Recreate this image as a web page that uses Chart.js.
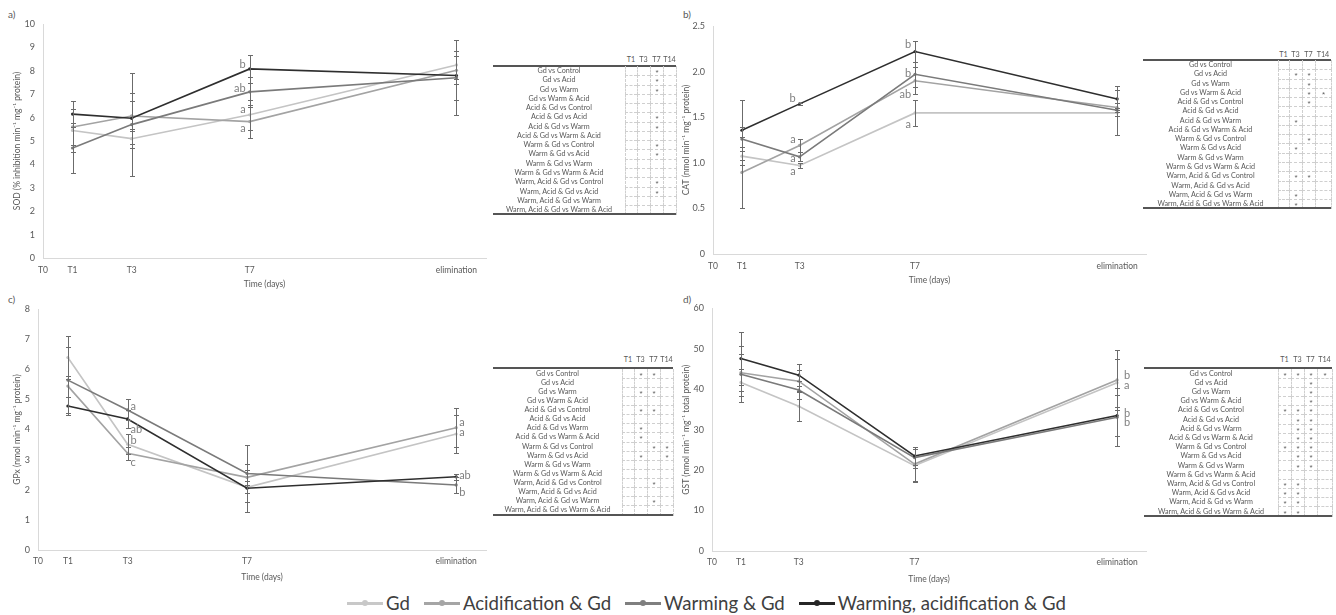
<!DOCTYPE html>
<html>
<head>
<meta charset="utf-8">
<script src="https://cdn.jsdelivr.net/npm/chart.js@4.4.0/dist/chart.umd.min.js"></script>
<style>
  body { margin: 0; background: #fff; width: 1336px; height: 615px; position: relative; overflow: hidden;
         font-family: Lato, 'Liberation Sans', sans-serif; color: #595959; }
  .box { position: absolute; }
  .plabel { position: absolute; font-size: 10px; color: #595959; }
  .tbl { position: absolute; font-size: 7.2px; color: #595959; }
  .tbl div { position: absolute; box-sizing: border-box; white-space: nowrap; }
  .lab { text-align: center; }
  .cell { border-left: 1px dashed #cfcfcf; border-bottom: 1px dashed #cfcfcf; text-align: center;
          font-family: 'Liberation Sans', sans-serif; font-size: 8px; color: #606060; }
  .cell.last { border-right: 1px dashed #cfcfcf; }
  .hd { text-align: center; }
  .rule { background: #555; height: 2px; }
  #legend { position: absolute; left: 347px; top: 591px; display: flex; align-items: center;
            font-size: 18.6px; line-height: 24px; color: #404040; }
  .item { display: flex; align-items: center; margin-right: 14px; }
  .swatch { position: relative; width: 36px; height: 3px; margin-right: 3px; }
  .swatch i { position: absolute; left: 15px; top: -1.5px; width: 6px; height: 6px; border-radius: 3px; }
</style>
</head>
<body>
<div class="plabel" style="left:8px;top:8px">a)</div>
<div class="plabel" style="left:683px;top:8px">b)</div>
<div class="plabel" style="left:8px;top:293px">c)</div>
<div class="plabel" style="left:683px;top:293px">d)</div>

<div class="box" style="left:0;top:0"><canvas id="chartA" width="490" height="295"></canvas></div>
<div class="box" style="left:670px;top:0"><canvas id="chartB" width="480" height="295"></canvas></div>
<div class="box" style="left:0;top:295px"><canvas id="chartC" width="490" height="295"></canvas></div>
<div class="box" style="left:670px;top:295px"><canvas id="chartD" width="480" height="295"></canvas></div>

<div id="tableA" class="tbl"></div>
<div id="tableB" class="tbl"></div>
<div id="tableC" class="tbl"></div>
<div id="tableD" class="tbl"></div>

<div id="legend"></div>

<script>
// Datos comunes
const days = [1, 3, 7, 14];
const tickDays = [0, 1, 3, 7, 14];
const tickLabels = ['T0', 'T1', 'T3', 'T7', 'elimination'];
const seriesNames = ['Gd', 'Acidification & Gd', 'Warming & Gd', 'Warming, acidification & Gd'];
const lineColors = ['#c4c4c4', '#a3a3a3', '#7a7a7a', '#2e2e2e'];
const legendColors = ['#c8c8c8', '#a5a5a5', '#7f7f7f', '#262626'];

// a) SOD
const sodGd = [5.45, 5.1, 6.12, 8.25];
const sodAcid = [5.6, 6.07, 5.83, 8.02];
const sodWarm = [4.7, 5.7, 7.1, 7.7];
const sodWarmAcid = [6.15, 5.97, 8.08, 7.8];
const sodErrGd = [0.9, 0.4, 0.65, 0.6];
const sodErrAcid = [0.75, 0.65, 0.7, 0.6];
const sodErrWarm = [1.05, 2.2, 0.65, 1.6];
const sodErrWarmAcid = [0.55, 1.1, 0.6, 1.05];
const sodLetters = [['b', 7, 8.27], ['ab', 7, 7.26], ['a', 7, 6.35], ['a', 7, 5.53]];

// b) CAT
const catGd = [1.073, 0.97, 1.547, 1.547];
const catAcid = [0.894, 1.19, 1.90, 1.606];
const catWarm = [1.26, 1.066, 1.97, 1.577];
const catWarmAcid = [1.357, 1.646, 2.22, 1.70];
const catErrGd = [0.1, 0.03, 0.14, 0.03];
const catErrAcid = [0.39, 0.075, 0.15, 0.05];
const catErrWarm = [0.13, 0.05, 0.14, 0.27];
const catErrWarmAcid = [0.33, 0.01, 0.12, 0.1];
const catLetters = [['b', 3, 1.71], ['a', 3, 1.255], ['a', 3, 1.05], ['a', 3, 0.9],
                    ['b', 7, 2.3], ['b', 7, 1.98], ['ab', 7, 1.75], ['a', 7, 1.42]];

// c) GPx
const gpxGd = [6.39, 3.51, 2.08, 3.85];
const gpxAcid = [5.44, 3.21, 2.41, 4.06];
const gpxWarm = [5.64, 4.65, 2.54, 2.16];
const gpxWarmAcid = [4.78, 4.35, 2.05, 2.43];
const gpxErrGd = [0.7, 0.33, 0.2, 0.63];
const gpxErrAcid = [0.35, 0.22, 0.25, 0.65];
const gpxErrWarm = [1.1, 0.35, 0.95, 0.26];
const gpxErrWarmAcid = [0.3, 0.3, 0.8, 0.1];
const gpxLetters = [['a', 3, 4.78], ['ab', 3, 4.0], ['b', 3, 3.63], ['c', 3, 2.9],
                    ['a', 14, 4.23], ['a', 14, 3.89], ['ab', 14, 2.49], ['b', 14, 1.9]];

// d) GST
const gstGd = [41.7, 35.8, 21.1, 41.6];
const gstAcid = [44.1, 42.0, 21.5, 42.3];
const gstWarm = [43.7, 39.8, 23.1, 33.1];
const gstWarmAcid = [47.6, 43.5, 23.5, 33.5];
const gstErrGd = [3.3, 3.7, 4.1, 6];
const gstErrAcid = [4.5, 2.7, 4.1, 7.5];
const gstErrWarm = [6.9, 2.2, 2.5, 7.1];
const gstErrWarmAcid = [6.5, 2.8, 2.2, 5.1];
const gstLetters = [['b', 14, 43.3], ['a', 14, 40.9], ['b', 14, 34.0], ['b', 14, 31.7]];

// Tablas de comparaciones (T1, T3, T7, T14)
const tableCols = ['T1', 'T3', 'T7', 'T14'];
const comparisons = [
  'Gd vs Control', 'Gd vs Acid', 'Gd vs Warm', 'Gd vs Warm & Acid',
  'Acid & Gd vs Control', 'Acid & Gd vs Acid', 'Acid & Gd vs Warm', 'Acid & Gd vs Warm & Acid',
  'Warm & Gd vs Control', 'Warm & Gd vs Acid', 'Warm & Gd vs Warm', 'Warm & Gd vs Warm & Acid',
  'Warm, Acid & Gd vs Control', 'Warm, Acid & Gd vs Acid', 'Warm, Acid & Gd vs Warm', 'Warm, Acid & Gd vs Warm & Acid'
];
const sodSig = ['--*-', '--*-', '--*-', '----', '----', '--*-', '--*-', '----',
                '--*-', '--*-', '----', '----', '--*-', '--*-', '----', '----'];
const catSig = ['----', '-**-', '--*-', '--**', '--*-', '----', '-*--', '----',
                '--*-', '-*--', '----', '----', '-**-', '----', '-*--', '-*--'];
const gpxSig = ['-**-', '----', '-**-', '----', '-**-', '----', '-*--', '-*--',
                '--**', '-*-*', '----', '----', '--*-', '----', '--*-', '----'];
const gstSig = ['****', '--*-', '--*-', '--*-', '***-', '-**-', '-**-', '-**-',
                '***-', '-**-', '-**-', '----', '**--', '**--', '**--', '**--'];

Chart.defaults.font.family = "Lato, 'Liberation Sans', sans-serif";
Chart.defaults.color = '#595959';

// Plugin: barras de error
const errorBars = {
  id: 'errorBars',
  afterDatasetsDraw(chart, args, opts) {
    const ctx = chart.ctx;
    const y = chart.scales.y;
    ctx.save();
    ctx.strokeStyle = opts.color;
    ctx.lineWidth = 1;
    chart.data.datasets.forEach((ds, i) => {
      const meta = chart.getDatasetMeta(i);
      ds.errors.forEach((e, j) => {
        const px = Math.round(meta.data[j].x) + 0.5;
        const v = ds.data[j].y;
        const y1 = Math.round(y.getPixelForValue(v + e)) + 0.5;
        const y2 = Math.round(y.getPixelForValue(v - e)) + 0.5;
        ctx.beginPath();
        ctx.moveTo(px, y1); ctx.lineTo(px, y2);
        ctx.moveTo(px - 2.5, y1); ctx.lineTo(px + 2.5, y1);
        ctx.moveTo(px - 2.5, y2); ctx.lineTo(px + 2.5, y2);
        ctx.stroke();
      });
    });
    ctx.restore();
  }
};

// Plugin: letras de significancia
const letters = {
  id: 'letters',
  afterDatasetsDraw(chart, args, opts) {
    const ctx = chart.ctx;
    const {x, y} = chart.scales;
    ctx.save();
    ctx.fillStyle = '#7f7f7f';
    ctx.font = '11px ' + Chart.defaults.font.family;
    ctx.textBaseline = 'middle';
    ctx.textAlign = opts.side === 'left' ? 'right' : 'left';
    opts.items.forEach(([txt, d, v]) => {
      const px = x.getPixelForValue(d) + (opts.side === 'left' ? -opts.gap : opts.gap);
      ctx.fillText(txt, px, y.getPixelForValue(v));
    });
    ctx.restore();
  }
};

function makeChart(id, cfg) {
  const series = [cfg.gd, cfg.acid, cfg.warm, cfg.warmAcid];
  const errs = [cfg.eGd, cfg.eAcid, cfg.eWarm, cfg.eWarmAcid];
  const datasets = series.map((vals, i) => ({
    label: seriesNames[i],
    data: vals.map((v, j) => ({x: days[j], y: v})),
    errors: errs[i],
    borderColor: lineColors[i],
    backgroundColor: lineColors[i],
    borderWidth: 1.6,
    pointRadius: 1.6,
    pointBorderWidth: 0,
    tension: 0,
    order: 4 - i
  }));

  return new Chart(document.getElementById(id), {
    type: 'line',
    data: { datasets: datasets },
    plugins: [errorBars, letters],
    options: {
      responsive: false,
      animation: false,
      devicePixelRatio: 1,
      layout: { padding: { top: cfg.top, left: 0, right: 0, bottom: 0 } },
      plugins: {
        legend: { display: false },
        tooltip: { enabled: false },
        errorBars: { color: '#6b6b6b' },
        letters: { items: cfg.letters, side: cfg.side, gap: cfg.gap }
      },
      scales: {
        x: {
          type: 'linear',
          min: 0,
          max: 15,
          afterBuildTicks: s => { s.ticks = tickDays.map(v => ({ value: v })); },
          afterFit: s => { s.height = cfg.xh; },
          ticks: {
            autoSkip: false,
            maxRotation: 0,
            padding: cfg.xpad,
            font: { size: 8.5 },
            callback: v => tickLabels[tickDays.indexOf(v)]
          },
          grid: { display: false, drawTicks: false },
          border: { color: '#d9d9d9' },
          title: { display: true, text: 'Time (days)', font: { size: 8.5 }, padding: { bottom: cfg.tpad, top: 0 } }
        },
        y: {
          min: 0,
          max: cfg.ymax,
          afterFit: s => { s.width = cfg.yw; },
          ticks: { stepSize: cfg.step, padding: 8, font: { size: 9 } },
          grid: { display: false, drawTicks: false },
          border: { color: '#d9d9d9' },
          title: { display: true, text: cfg.title, font: { size: 8.5 }, padding: { top: cfg.ytpad, bottom: 0 } }
        }
      }
    }
  });
}

makeChart('chartA', {
  gd: sodGd, acid: sodAcid, warm: sodWarm, warmAcid: sodWarmAcid,
  eGd: sodErrGd, eAcid: sodErrAcid, eWarm: sodErrWarm, eWarmAcid: sodErrWarmAcid,
  letters: sodLetters, side: 'left', gap: 4,
  ymax: 10, step: 1, title: 'SOD (% inhibition min⁻¹ mg⁻¹ protein)',
  top: 24, xh: 37, yw: 43, xpad: 7, tpad: 6, ytpad: 12
});
makeChart('chartB', {
  gd: catGd, acid: catAcid, warm: catWarm, warmAcid: catWarmAcid,
  eGd: catErrGd, eAcid: catErrAcid, eWarm: catErrWarm, eWarmAcid: catErrWarmAcid,
  letters: catLetters, side: 'left', gap: 4,
  ymax: 2.5, step: 0.5, title: 'CAT (nmol min⁻¹ mg⁻¹ protein)',
  top: 26, xh: 41, yw: 43, xpad: 7, tpad: 10, ytpad: 11
});
makeChart('chartC', {
  gd: gpxGd, acid: gpxAcid, warm: gpxWarm, warmAcid: gpxWarmAcid,
  eGd: gpxErrGd, eAcid: gpxErrAcid, eWarm: gpxErrWarm, eWarmAcid: gpxErrWarmAcid,
  letters: gpxLetters, side: 'right', gap: 3,
  ymax: 8, step: 1, title: 'GPx (nmol min⁻¹ mg⁻¹ protein)',
  top: 14, xh: 40, yw: 38, xpad: 6, tpad: 8, ytpad: 12
});
makeChart('chartD', {
  gd: gstGd, acid: gstAcid, warm: gstWarm, warmAcid: gstWarmAcid,
  eGd: gstErrGd, eAcid: gstErrAcid, eWarm: gstErrWarm, eWarmAcid: gstErrWarmAcid,
  letters: gstLetters, side: 'right', gap: 7,
  ymax: 60, step: 10, title: 'GST (nmol min⁻¹ mg⁻¹ total protein)',
  top: 11, xh: 39, yw: 42, xpad: 6, tpad: 6, ytpad: 11
});

// Construir tablas
function makeTable(id, sig, g) {
  const el = document.getElementById(id);
  el.style.left = g.left + 'px';
  el.style.top = '0px';
  let html = '';
  const right = g.labelW + g.cols.reduce((a, b) => a + b, 0);
  let cx = g.labelW;
  tableCols.forEach((c, k) => {
    html += `<div class="hd" style="left:${cx}px;top:${g.head - 5}px;width:${g.cols[k]}px;height:10px;line-height:10px">${c}</div>`;
    cx += g.cols[k];
  });
  html += `<div class="rule" style="left:0;top:${g.rule}px;width:${right}px"></div>`;
  comparisons.forEach((label, i) => {
    const top = g.rows + i * g.pitch;
    html += `<div class="lab" style="left:0;top:${top}px;width:${g.labelW}px;height:${g.pitch}px;line-height:${g.pitch}px">${label}</div>`;
    let x = g.labelW;
    for (let k = 0; k < 4; k++) {
      const mark = sig[i][k] === '*' ? '*' : '';
      html += `<div class="cell${k === 3 ? ' last' : ''}" style="left:${x}px;top:${top}px;width:${g.cols[k] + (k === 3 ? 1 : 0)}px;height:${g.pitch + 1}px;line-height:${g.pitch + 5}px">${mark}</div>`;
      x += g.cols[k];
    }
  });
  const bottom = g.rows + comparisons.length * g.pitch - 1;
  html += `<div class="rule" style="left:0;top:${bottom}px;width:${right}px"></div>`;
  el.innerHTML = html;
}

makeTable('tableA', sodSig, { left: 493, labelW: 132, cols: [12, 13, 13, 13], head: 60, rule: 64.5, rows: 66, pitch: 9.27 });
makeTable('tableB', catSig, { left: 1143, labelW: 135, cols: [11, 13, 13, 16], head: 55, rule: 58.5, rows: 60, pitch: 9.27 });
makeTable('tableC', gpxSig, { left: 493, labelW: 129, cols: [12, 13, 13, 13], head: 360, rule: 367, rows: 368.5, pitch: 9.13 });
makeTable('tableD', gstSig, { left: 1144, labelW: 134, cols: [13, 13, 13, 15], head: 360, rule: 367, rows: 368.5, pitch: 9.2 });

// Leyenda
const legend = document.getElementById('legend');
seriesNames.forEach((name, i) => {
  const item = document.createElement('div');
  item.className = 'item';
  item.innerHTML = `<span class="swatch" style="background:${legendColors[i]}"><i style="background:${legendColors[i]}"></i></span><span>${name}</span>`;
  legend.appendChild(item);
});
</script>
</body>
</html>
